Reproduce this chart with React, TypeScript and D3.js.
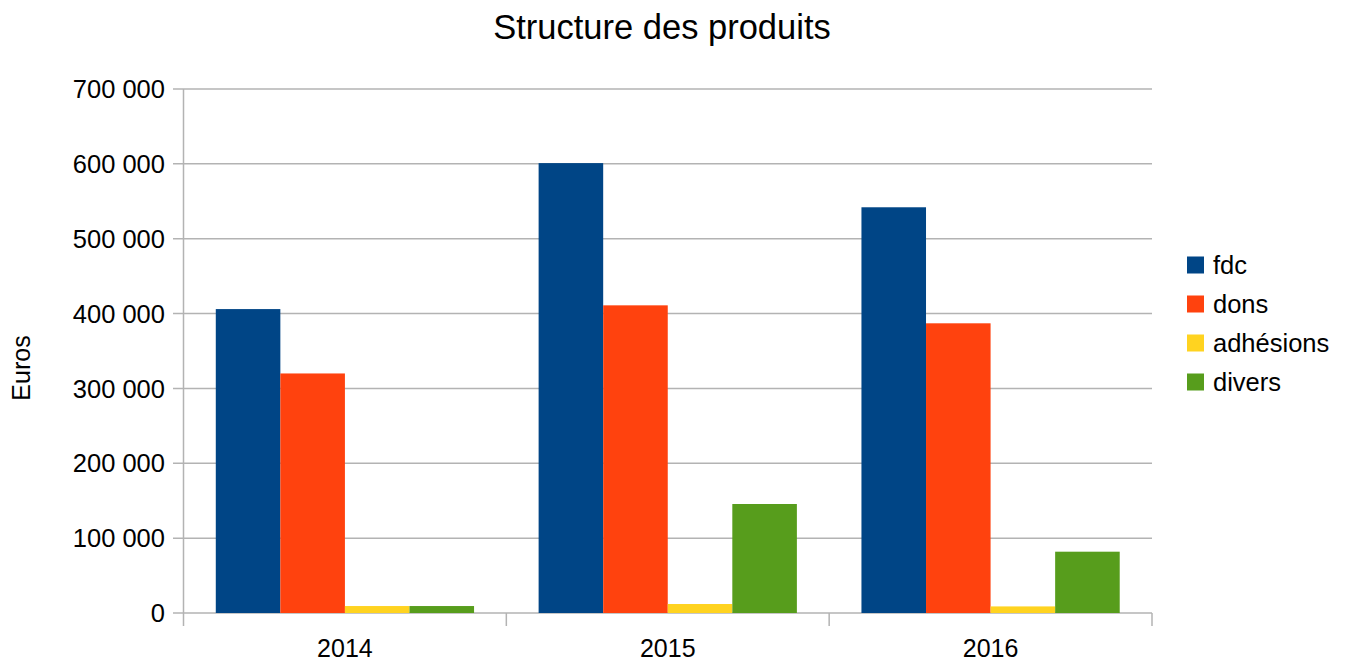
import React from "react";
import * as d3 from "d3";

const categories = ["2014", "2015", "2016"];
const seriesNames = ["fdc", "dons", "adhésions", "divers"];
const fdc = [406000, 601000, 542000];
const dons = [320000, 411000, 387000];
const adhesions = [9300, 12000, 8800];
const divers = [9300, 145600, 81900];
const yTicks = [0, 100000, 200000, 300000, 400000, 500000, 600000, 700000];
const colors = ["#004586", "#ff420e", "#ffd320", "#579d1c"];

const W = 1350;
const H = 663;
const left = 183.5;
const right = 1152;
const top = 89;
const bottom = 613;

const fmt = (v: number) => {
  const s = String(v);
  return s.replace(/\B(?=(\d{3})+(?!\d))/g, " ");
};

export default function App() {
  const series = [fdc, dons, adhesions, divers];
  const x0 = d3.scaleBand<string>().domain(categories).range([left, right]).paddingInner(0).paddingOuter(0);
  const x1 = d3
    .scaleBand<string>()
    .domain(seriesNames)
    .range([x0.bandwidth() * 0.1, x0.bandwidth() * 0.9]);
  const y = d3.scaleLinear().domain([0, 700000]).range([bottom, top]);
  const font = "'Liberation Sans', Arial, sans-serif";
  const boundaries = [left, ...categories.map((c) => (x0(c) as number) + x0.bandwidth())];

  return (
    <svg width={W} height={H} style={{ position: "absolute", left: 0, top: 0, background: "#fff" }}>
      <rect x={0} y={0} width={W} height={H} fill="#fff" />
      <text x={662} y={39} textAnchor="middle" fontFamily={font} fontSize={34.5} fill="#000">
        Structure des produits
      </text>
      {yTicks.map((t) => (
        <g key={t}>
          <line x1={173} x2={right} y1={y(t)} y2={y(t)} stroke="#b3b3b3" strokeWidth={1.5} />
          <text
            x={165}
            y={y(t)}
            dy="0.36em"
            textAnchor="end"
            fontFamily={font}
            fontSize={25.5}
            fill="#000"
          >
            {fmt(t)}
          </text>
        </g>
      ))}
      <line x1={left} x2={left} y1={top} y2={626} stroke="#b3b3b3" strokeWidth={1.5} />
      {boundaries.slice(1).map((b, i) => (
        <line key={i} x1={b} x2={b} y1={bottom} y2={626} stroke="#b3b3b3" strokeWidth={1.5} />
      ))}
      {categories.map((c, ci) => (
        <g key={c} transform={`translate(${x0(c)},0)`}>
          {seriesNames.map((s, si) => {
            const v = series[si][ci];
            return (
              <rect
                key={s}
                x={x1(s)}
                y={y(v)}
                width={x1.bandwidth()}
                height={bottom - y(v)}
                fill={colors[si]}
              />
            );
          })}
          <text
            x={x0.bandwidth() / 2}
            y={657}
            textAnchor="middle"
            fontFamily={font}
            fontSize={25}
            fill="#000"
          >
            {c}
          </text>
        </g>
      ))}
      <text
        transform="translate(30,368) rotate(-90)"
        textAnchor="middle"
        fontFamily={font}
        fontSize={25}
        fill="#000"
      >
        Euros
      </text>
      {seriesNames.map((s, i) => (
        <g key={s} transform={`translate(1187,${265 + i * 39})`}>
          <rect x={0} y={-8.5} width={17} height={17} fill={colors[i]} />
          <text x={26} y={0} dy="0.36em" fontFamily={font} fontSize={25.5} fill="#000">
            {s}
          </text>
        </g>
      ))}
    </svg>
  );
}
